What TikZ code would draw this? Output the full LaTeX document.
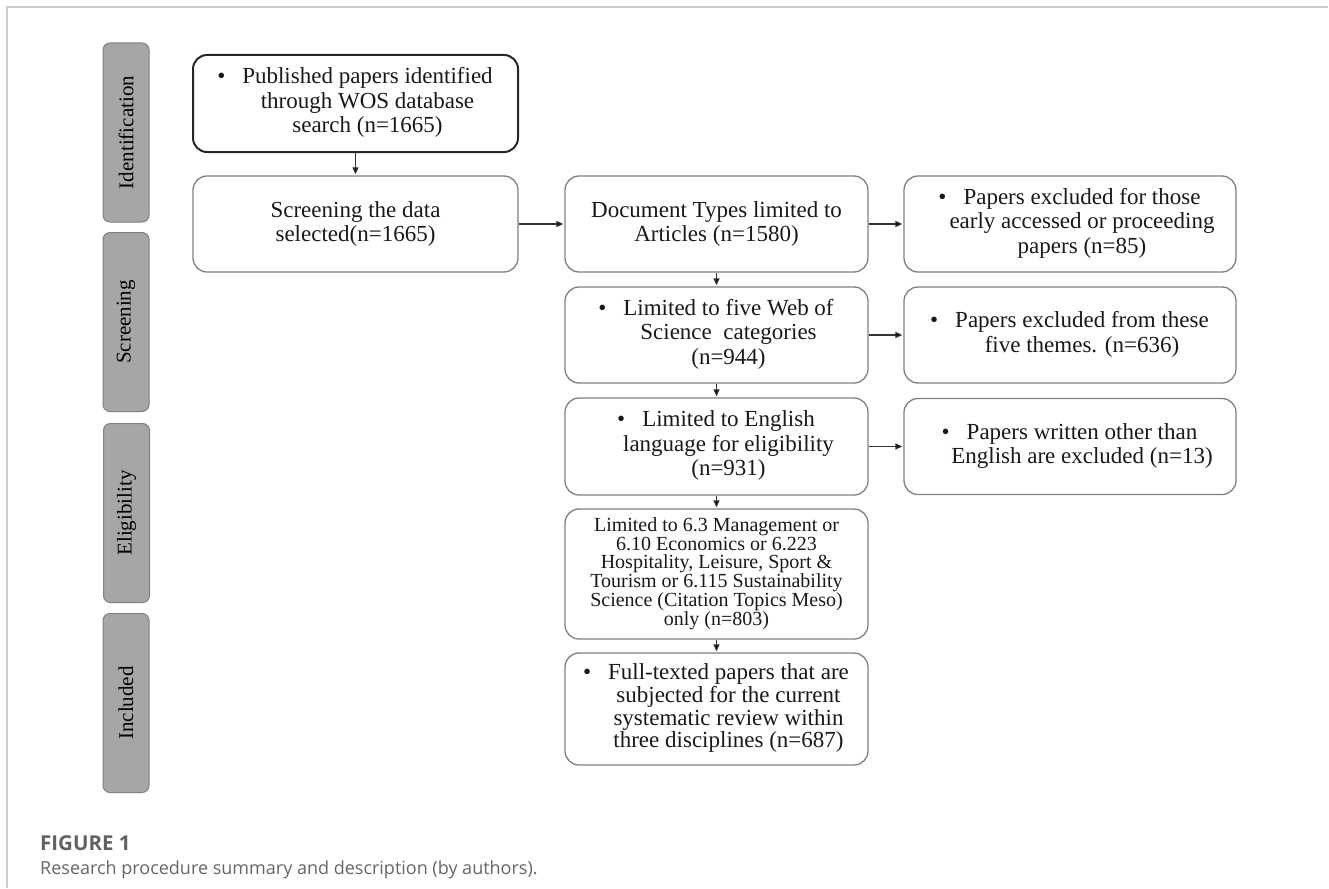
\documentclass[tikz,border=0pt]{standalone}
\usepackage{fontspec}
\setmainfont{Liberation Serif}
\newfontfamily\capfont{Open Sans}
\usetikzlibrary{arrows.meta}

\newcommand{\bulletlines}[2]{\hspace*{24pt}\begin{tabular}[t]{@{}c@{}}\llap{\textbullet\hspace{17pt}}#1\\ #2\end{tabular}}

\begin{document}
\begin{tikzpicture}[x=1pt, y=-1pt, shorten >=1pt,
        phase_style/.style={rectangle, rounded corners=7pt, draw=black!50, fill=black!35, line width=1pt, minimum width=179pt, minimum height=46pt, inner sep=0pt, rotate=90, font=\fontsize{21}{22}\selectfont},
        box_style/.style={rectangle, rounded corners=14pt, draw=black!50, line width=1.3pt, fill=white, text=black!90, align=center, inner sep=0pt, font=\fontsize{23}{24.5}\selectfont},
        first_box_style/.style={box_style, draw=black!85, line width=2pt},
        edge_style/.style={draw=black!80, line width=1.2pt, -{Triangle[length=7pt,width=6pt]}},
        frame_style/.style={draw=black!20, line width=2pt},
        caption_title_style/.style={text=black!62, font=\capfont\bfseries\fontsize{20.5}{22}\selectfont, inner sep=0pt},
        caption_style/.style={text=black!60, font=\capfont\fontsize{18}{22}\selectfont, inner sep=0pt}]

        \useasboundingbox (0,0) rectangle (1329,888);
        \draw [frame_style] (7,888) -- (7,7) -- (1329,7);

        % phases
        \node [phase_style] (p1) at (126,132.5) {Identification};
        \node [phase_style] (p2) at (126,322) {Screening};
        \node [phase_style] (p3) at (126.5,513) {Eligibility};
        \node [phase_style] (p4) at (126,703) {Included};

        % main column
        \node [first_box_style, minimum width=325pt, minimum height=97pt] (n1) at (355.5,103.5) {\bulletlines{Published papers identified}{through WOS database\\ search (n=1665)}};

        \node [box_style, minimum width=325pt, minimum height=96pt] (n2) at (355.5,224) {Screening the data\\ selected(n=1665)};

        \node [box_style, minimum width=303pt, minimum height=96pt] (n3) at (716.5,224) {Document Types limited to\\ Articles (n=1580)};

        \node [box_style, minimum width=303pt, minimum height=96pt] (n4) at (716.5,335) {\bulletlines{Limited to five Web of}{Science\ \ categories\\ (n=944)}};

        \node [box_style, minimum width=303pt, minimum height=97pt] (n5) at (716.5,446.5) {\bulletlines{Limited to English}{language for eligibility\\ (n=931)}};

        \node [box_style, minimum width=303pt, minimum height=130pt, font=\fontsize{20}{17.6}\selectfont] (n6) at (716.5,574) {Limited to 6.3 Management or\\ 6.10 Economics or 6.223\\ Hospitality, Leisure, Sport \&\\ Tourism or 6.115 Sustainability\\ Science (Citation Topics Meso)\\ only (n=803)};

        \node [box_style, minimum width=303pt, minimum height=112pt, font=\fontsize{23}{22.3}\selectfont] (n7) at (716.5,709) {\bulletlines{Full-texted papers that are}{subjected for the current\\ systematic review within\\ three disciplines (n=687)}};

        % excluded column
        \node [box_style, minimum width=332pt, minimum height=96pt] (e1) at (1070,224) {\bulletlines{Papers excluded for those}{early accessed or proceeding\\ papers (n=85)}};

        \node [box_style, minimum width=332pt, minimum height=96pt] (e2) at (1070,335) {\bulletlines{Papers excluded from these}{five themes. (n=636)}};

        \node [box_style, minimum width=332pt, minimum height=96pt] (e3) at (1070,446.5) {\bulletlines{Papers written other than}{English are excluded (n=13)}};

        \draw [edge_style] (n1) edge (n2);
        \draw [edge_style] (n2) edge (n3);
        \draw [edge_style] (n3) edge (e1);
        \draw [edge_style] (n3) edge (n4);
        \draw [edge_style] (n4) edge (e2);
        \draw [edge_style] (n4) edge (n5);
        \draw [edge_style] (n5) edge (e3);
        \draw [edge_style] (n5) edge (n6);
        \draw [edge_style] (n6) edge (n7);

        % caption
        \node [caption_title_style, anchor=base west] (fig) at (40,850) {FIGURE 1};
        \node [caption_style, anchor=base west] (cap) at (40,874) {Research procedure summary and description (by authors).};

        \end{tikzpicture}
\end{document}
